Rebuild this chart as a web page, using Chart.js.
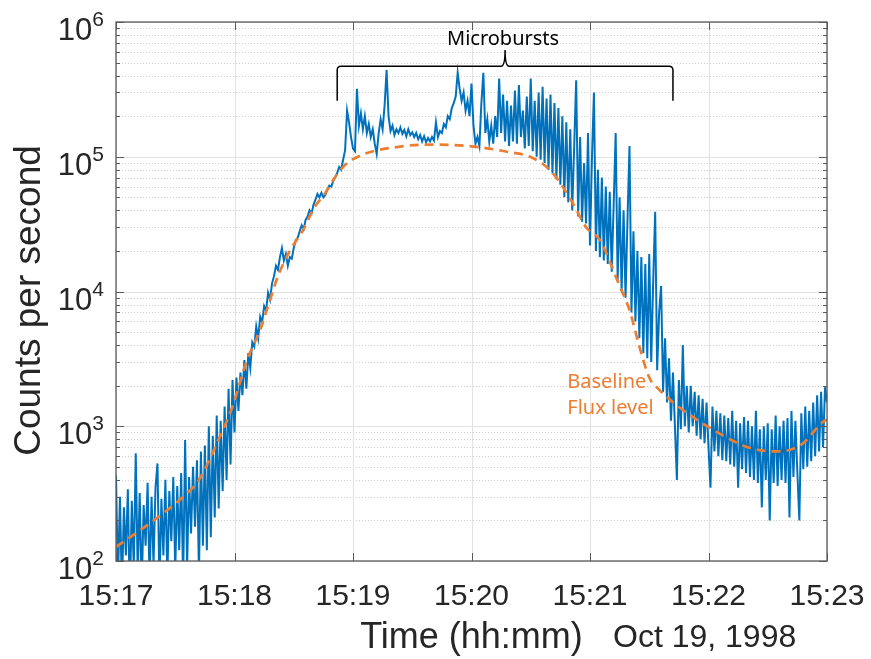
<!DOCTYPE html>
<html>
<head>
<meta charset="utf-8">
<script src="https://cdn.jsdelivr.net/npm/chart.js@4.4.0/dist/chart.umd.min.js"></script>
<style>
  body { margin: 0; background: #fff; }
</style>
</head>
<body>
<canvas id="myChart" width="871" height="659"></canvas>
<script>
// seconds after 15:17:00, one sample per second
const countsPerSecond = [
  430, 70, 300, 60, 250, 110, 340, 50, 280, 90,
  630, 80, 320, 60, 260, 130, 380, 70, 300, 95,
  350, 530, 65, 290, 110, 400, 75, 330, 140, 420,
  85, 360, 120, 450, 70, 790, 90, 420, 160, 500,
  180, 560, 80, 650, 130, 720, 120, 1000, 150, 850,
  210, 1200, 245, 1100, 330, 1400, 400, 1900, 520, 2200,
  900, 2300, 1300, 2500, 1700, 3100, 1900, 3500, 2700, 4200,
  3900, 5500, 4500, 6500, 5900, 7800, 7200, 9800, 8700, 11500,
  13000, 15500, 14500, 18000, 21000, 17000, 19000, 15500, 18000, 17500,
  21000, 24000, 25000, 28000, 31000, 29000, 34000, 36000, 40000, 38000,
  44000, 48000, 53000, 50000, 54000, 50000, 52000, 57000, 61000, 60000,
  66000, 70000, 76000, 84000, 80000, 95000, 112000, 220000, 180000, 140000,
  115000, 110000, 320000, 170000, 210000, 160000, 200000, 150000, 175000, 140000,
  160000, 125000, 105000, 150000, 190000, 160000, 240000, 440000, 200000, 155000,
  170000, 145000, 160000, 150000, 165000, 148000, 158000, 142000, 160000, 145000,
  152000, 140000, 150000, 135000, 145000, 130000, 142000, 128000, 138000, 130000,
  140000, 132000, 180000, 140000, 155000, 150000, 175000, 165000, 200000, 190000,
  230000, 250000, 280000, 420000, 320000, 260000, 300000, 220000, 260000, 200000,
  350000, 170000, 125000, 140000, 120000, 250000, 420000, 150000, 190000, 130000,
  170000, 125000, 200000, 140000, 380000, 150000, 290000, 130000, 260000, 120000,
  240000, 130000, 310000, 125000, 340000, 140000, 220000, 115000, 280000, 120000,
  380000, 110000, 260000, 100000, 300000, 95000, 330000, 90000, 270000, 80000,
  290000, 75000, 250000, 68000, 230000, 62000, 200000, 50000, 180000, 46000,
  160000, 40000, 120000, 370000, 36000, 140000, 33000, 90000, 32000, 150000,
  22000, 100000, 300000, 20000, 80000, 18000, 70000, 17000, 60000, 16000,
  55000, 14000, 45000, 150000, 12000, 50000, 10000, 40000, 9000, 35000,
  120000, 7000, 28000, 6000, 20000, 4500, 18000, 3500, 16000, 3200,
  19000, 3000, 12000, 39000, 2600, 7000, 11000, 1800, 4500, 1500,
  3200, 1100, 2500, 1000, 400, 2200, 950, 4000, 1000, 2000,
  900, 2000, 1000, 1800, 850, 1700, 800, 1600, 750, 1500,
  700, 350, 1400, 650, 1300, 600, 1250, 560, 1200, 550,
  1150, 520, 1300, 500, 1100, 350, 1050, 480, 1170, 450,
  1100, 420, 1000, 400, 1300, 380, 950, 250, 1000, 400,
  1050, 200, 950, 380, 1200, 360, 1000, 400, 1100, 380,
  1150, 210, 1300, 420, 1100, 450, 200, 1250, 480, 1400,
  500, 1300, 550, 1500, 600, 1700, 650, 1800, 700, 1950, 1500
];
const sampleStep = 1; // s

// baseline flux level (dashed), read at a few times
const baseTimes  = [0, 17, 34, 42, 52, 59, 66, 73, 77, 82, 88, 95, 100, 106, 113, 120, 144, 164, 181, 198, 211, 221, 231, 238, 245, 255, 260, 265, 270, 275, 285, 304, 321, 335, 347, 358, 360];
const baseCounts = [127, 190, 300, 400, 800, 1400, 3000, 5200, 7800, 13000, 20000, 29000, 41000, 54000, 78000, 96000, 119000, 123000, 119000, 109000, 98000, 76000, 46000, 30000, 24000, 11000, 7300, 3900, 2300, 1870, 1390, 910, 690, 650, 730, 1080, 1120];

const tickSeconds = [0, 60, 120, 180, 240, 300, 360];
const tickLabels = ['15:17', '15:18', '15:19', '15:20', '15:21', '15:22', '15:23'];
const yDecades = [1e2, 1e3, 1e4, 1e5, 1e6];

const FONT = "'Liberation Sans', Arial, Helvetica, sans-serif";
const NOTE_FONT = "'Noto Sans', 'Open Sans', sans-serif";

const countsData = countsPerSecond.map((v, i) => ({x: i * sampleStep, y: v}));
const baseData = baseTimes.map((t, i) => ({x: t, y: baseCounts[i]}));

function line(ctx, x1, y1, x2, y2) {
    ctx.beginPath();
    ctx.moveTo(x1, y1);
    ctx.lineTo(x2, y2);
    ctx.stroke();
}

const matlabAxes = {
    id: 'matlabAxes',
    beforeDatasetsDraw: (chart) => {
        const {ctx, chartArea: a, scales: {x, y}} = chart;
        ctx.save();
        ctx.lineWidth = 1;
        // minor grid, dotted
        ctx.strokeStyle = '#cfcfcf';
        ctx.setLineDash([1, 2]);
        yDecades.slice(0, -1).forEach(d => {
            for (let m = 2; m <= 9; m++) {
                const py = Math.round(y.getPixelForValue(d * m)) + 0.5;
                line(ctx, a.left, py, a.right, py);
            }
        });
        // major grid
        ctx.setLineDash([]);
        ctx.strokeStyle = '#e2e2e2';
        yDecades.forEach(d => {
            const py = Math.round(y.getPixelForValue(d)) + 0.5;
            line(ctx, a.left, py, a.right, py);
        });
        tickSeconds.forEach(s => {
            const px = Math.round(x.getPixelForValue(s)) + 0.5;
            line(ctx, px, a.top, px, a.bottom);
        });
        ctx.restore();
    },
    afterDatasetsDraw: (chart) => {
        const {ctx, chartArea: a, scales: {x, y}} = chart;
        ctx.save();
        // box
        ctx.strokeStyle = '#5a5a5a';
        ctx.lineWidth = 1.3;
        ctx.strokeRect(a.left, a.top, a.right - a.left, a.bottom - a.top);
        // ticks inside
        ctx.lineWidth = 1;
        yDecades.forEach((d, i) => {
            const py = Math.round(y.getPixelForValue(d)) + 0.5;
            line(ctx, a.left, py, a.left + 8, py);
            line(ctx, a.right, py, a.right - 8, py);
            if (i < yDecades.length - 1) {
                for (let m = 2; m <= 9; m++) {
                    const pm = Math.round(y.getPixelForValue(d * m)) + 0.5;
                    line(ctx, a.left, pm, a.left + 4, pm);
                    line(ctx, a.right, pm, a.right - 4, pm);
                }
            }
        });
        tickSeconds.forEach(s => {
            const px = Math.round(x.getPixelForValue(s)) + 0.5;
            line(ctx, px, a.bottom, px, a.bottom - 8);
            line(ctx, px, a.top, px, a.top + 8);
        });

        ctx.fillStyle = '#262626';
        // y tick labels 10^n
        yDecades.forEach(d => {
            const py = y.getPixelForValue(d);
            const exp = String(Math.round(Math.log10(d)));
            ctx.font = '21px ' + FONT;
            const ew = ctx.measureText(exp).width;
            const expRight = a.left - 12;
            ctx.textAlign = 'left';
            ctx.textBaseline = 'alphabetic';
            ctx.fillText(exp, expRight - ew, py + 4);
            ctx.font = '31px ' + FONT;
            ctx.textAlign = 'right';
            ctx.fillText('10', expRight - ew, py + 18);
        });
        // x tick labels
        ctx.font = '30px ' + FONT;
        ctx.textAlign = 'center';
        tickSeconds.forEach((s, i) => {
            ctx.fillText(tickLabels[i], x.getPixelForValue(s), a.bottom + 44);
        });
        // axis titles
        ctx.font = '36px ' + FONT;
        ctx.fillText('Time (hh:mm)', (a.left + a.right) / 2, a.bottom + 87);
        ctx.font = '32px ' + FONT;
        ctx.textAlign = 'left';
        ctx.fillText('Oct 19, 1998', 613, a.bottom + 86);
        ctx.save();
        ctx.translate(40, (a.top + a.bottom) / 2 + 9);
        ctx.rotate(-Math.PI / 2);
        ctx.textAlign = 'center';
        ctx.font = '37px ' + FONT;
        ctx.fillText('Counts per second', 0, 0);
        ctx.restore();

        // "Microbursts" brace
        const bl = x.getPixelForValue(112), br = x.getPixelForValue(282), bm = x.getPixelForValue(197);
        const by = y.getPixelForValue(4.7e5), bEnd = y.getPixelForValue(2.6e5), bTip = y.getPixelForValue(6.2e5);
        ctx.strokeStyle = '#000';
        ctx.lineWidth = 1.5;
        ctx.beginPath();
        ctx.moveTo(bl, bEnd);
        ctx.lineTo(bl, by + 4);
        ctx.quadraticCurveTo(bl, by, bl + 4, by);
        ctx.lineTo(bm - 4, by);
        ctx.quadraticCurveTo(bm, by, bm, bTip);
        ctx.quadraticCurveTo(bm, by, bm + 4, by);
        ctx.lineTo(br - 4, by);
        ctx.quadraticCurveTo(br, by, br, by + 4);
        ctx.lineTo(br, bEnd);
        ctx.stroke();
        ctx.fillStyle = '#000';
        ctx.font = '20px ' + NOTE_FONT;
        ctx.textAlign = 'center';
        ctx.fillText('Microbursts', bm - 2, y.getPixelForValue(6.8e5));

        // baseline label
        ctx.fillStyle = '#ED7D31';
        ctx.font = '20px ' + NOTE_FONT;
        ctx.textAlign = 'left';
        const lx = x.getPixelForValue(228.5);
        ctx.fillText('Baseline', lx, y.getPixelForValue(1930));
        ctx.fillText('Flux level', lx, y.getPixelForValue(1230));
        ctx.restore();
    }
};

const data = {
    datasets: [{
        label: 'Counts',
        data: countsData,
        borderColor: '#0072BD',
        borderWidth: 2,
        pointRadius: 0,
        tension: 0,
        order: 2
    }, {
        label: 'Baseline',
        data: baseData,
        borderColor: '#ED7D31',
        borderWidth: 2.7,
        borderDash: [9, 6],
        pointRadius: 0,
        cubicInterpolationMode: 'monotone',
        order: 1
    }]
};

const config = {
    type: 'line',
    data,
    options: {
        responsive: false,
        animation: false,
        layout: {
            padding: {left: 116, right: 44, top: 22, bottom: 98}
        },
        plugins: {
            legend: {display: false},
            tooltip: {enabled: false}
        },
        scales: {
            x: {type: 'linear', min: 0, max: 360, display: false},
            y: {type: 'logarithmic', min: 100, max: 1e6, display: false}
        }
    },
    plugins: [matlabAxes]
};

const myChart = new Chart(document.getElementById('myChart'), config);
</script>
</body>
</html>
